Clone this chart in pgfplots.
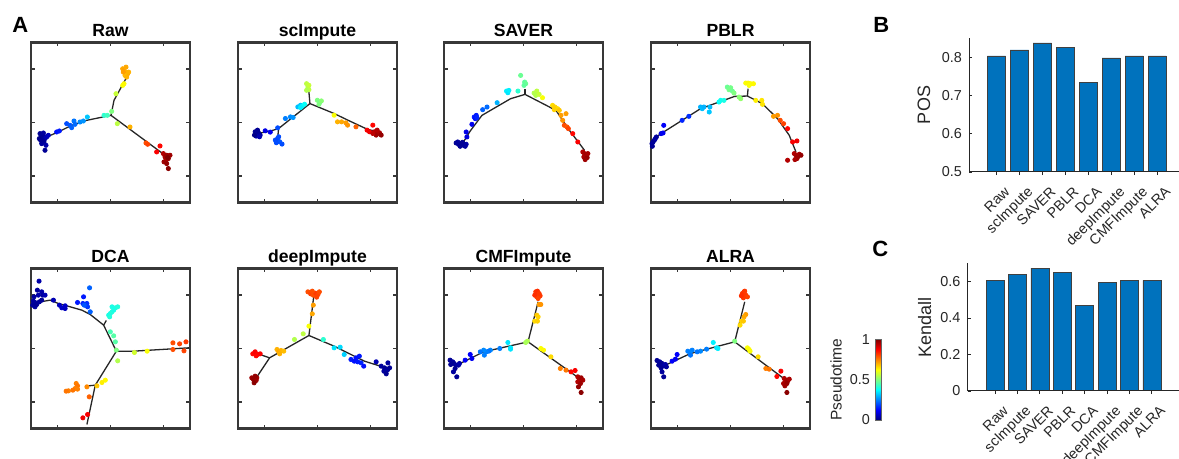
\documentclass[border=0pt]{standalone}
\usepackage{pgfplots}
\pgfplotsset{compat=1.18}
\usepackage{fontspec}
\setmainfont{Liberation Sans}
\definecolor{matblue}{RGB}{0,114,189}
\definecolor{txt}{RGB}{38,38,38}
\pgfplotsset{
  /pgf/number format/assume math mode=true,
  every axis title shift=0pt,
  panel/.style={scale only axis, width=79.5pt, height=80pt, anchor=south west, y dir=reverse,
    axis line style={line width=1.4pt, draw=black!78},
    tick align=inside, major tick length=1.8pt, tick style={line width=0.7pt, draw=black!78},
    xticklabels={}, yticklabels={},
    colormap/jet, point meta min=0, point meta max=1,
    title style={font=\bfseries\fontsize{8.8}{9}\selectfont, anchor=base, inner sep=0pt, yshift=2.8pt}},
  pts/.style={scatter, only marks, mark=*, mark size=1.05pt, point meta=explicit,
    scatter/use mapped color={draw=mapped color, fill=mapped color}},
  traj/.style={line width=0.65pt, draw=black!85, no marks},
  barax/.style={scale only axis, anchor=south west, axis x line*=bottom, axis y line*=left,
    axis line style={-, draw=txt, line width=0.5pt}, tick align=inside, major tick length=1.6pt,
    tick style={draw=txt, line width=0.4pt}, ybar, bar width=0.8, axis on top,
    font=\fontsize{7.2}{8}\selectfont, text=txt,
    xtick={1,...,8}, xticklabels={Raw,scImpute,SAVER,PBLR,DCA,deepImpute,CMFImpute,ALRA},
    xticklabel style={xshift=3.5pt, yshift=-5pt, rotate=45, anchor=north east, inner sep=0pt, font=\fontsize{7.2}{8}\selectfont},
    yticklabel style={inner sep=0pt, xshift=-3.4pt, font=\fontsize{7.2}{8}\selectfont},
    ylabel style={anchor=center, font=\fontsize{9}{10}\selectfont}},
}
\begin{document}
\begin{tikzpicture}
\path[use as bounding box] (0,0) rectangle (589.5pt,229.5pt);
\node[anchor=base west, inner sep=0pt, font=\bfseries\fontsize{11}{12}\selectfont] at (6pt,213pt) {A};
\node[anchor=base west, inner sep=0pt, font=\bfseries\fontsize{11}{12}\selectfont] at (436.5pt,213pt) {B};
\node[anchor=base west, inner sep=0pt, font=\bfseries\fontsize{11}{12}\selectfont] at (436pt,101pt) {C};

% ---------- Raw ----------
\begin{axis}[panel, at={(15.5pt,128.25pt)}, title={Raw}, xmin=93, xmax=570, ymin=126, ymax=607,
  xtick={172.5,331.5,490.5}, ytick={206.2,366.5,526.8}]
\addplot[pts] table[meta=c] {
x y c
120 400 0.02
125 410 0.03
130 405 0.02
135 415 0.04
128 420 0.03
140 410 0.05
132 425 0.02
125 430 0.03
138 435 0.04
135 450 0.02
118 415 0.01
145 405 0.06
130 398 0.03
122 420 0.02
170 395 0.14
178 392 0.15
200 370 0.2
210 375 0.21
215 382 0.22
222 362 0.24
225 372 0.23
240 365 0.26
250 362 0.27
262 350 0.32
312 345 0.42
322 345 0.44
335 333 0.5
352 370 0.56
348 280 0.57
368 255 0.62
372 250 0.63
368 205 0.71
372 210 0.72
378 215 0.7
383 220 0.71
375 225 0.69
380 230 0.7
370 215 0.72
386 215 0.7
378 200 0.71
390 380 0.7
438 428 0.8
443 432 0.81
470 455 0.88
480 437 0.87
490 460 0.95
495 470 0.96
500 465 0.97
505 475 0.98
498 480 0.96
492 485 0.97
500 490 0.98
510 465 0.97
505 505 0.99
503 472 1.0
};
\addplot[traj] coordinates {(140,410) (175,395) (215,375) (260,360) (333,345)};
\addplot[traj] coordinates {(333,345) (342,300) (383,225)};
\addplot[traj] coordinates {(333,345) (495,465)};
\end{axis}

% ---------- scImpute ----------
\begin{axis}[panel, at={(119pt,128.25pt)}, title={scImpute}, xmin=54, xmax=527, ymin=126, ymax=608,
  xtick={132.8,290.5,448.2}, ytick={206.3,367,527.7}]
\addplot[pts] table[meta=c] {
x y c
105 395 0.02
110 402 0.03
115 398 0.02
108 408 0.04
120 405 0.03
112 390 0.02
103 405 0.01
118 410 0.05
135 392 0.1
150 396 0.11
165 420 0.2
172 415 0.19
178 425 0.21
185 432 0.2
168 428 0.2
175 410 0.2
172 383 0.2
195 355 0.25
210 350 0.26
218 352 0.27
232 320 0.31
240 315 0.32
245 318 0.37
252 312 0.38
240 322 0.36
258 250 0.56
262 260 0.55
265 268 0.56
258 270 0.55
265 255 0.57
290 300 0.5
298 305 0.49
295 312 0.5
302 302 0.51
340 345 0.62
350 365 0.7
362 365 0.71
375 368 0.72
380 375 0.73
405 380 0.78
438 390 0.88
445 395 0.89
455 375 0.87
460 395 0.95
470 400 0.96
465 405 0.97
475 398 0.96
480 405 0.98
455 400 0.94
468 390 0.95
};
\addplot[traj] coordinates {(112,400) (150,393) (175,385) (268,310) (340,340) (385,362) (440,388) (472,395)};
\addplot[traj] coordinates {(175,385) (172,412)};
\addplot[traj] coordinates {(268,310) (265,275)};
\end{axis}

% ---------- SAVER ----------
\begin{axis}[panel, at={(222pt,128.25pt)}, title={SAVER}, xmin=42, xmax=515, ymin=126, ymax=607,
  xtick={120.8,278.5,436.2}, ytick={206.2,366.5,526.8}]
\addplot[pts] table[meta=c] {
x y c
78 428 0.02
85 432 0.03
92 430 0.02
100 435 0.03
108 432 0.04
90 438 0.02
83 425 0.03
97 426 0.02
105 438 0.03
108 395 0.1
110 410 0.09
125 372 0.11
132 350 0.15
138 345 0.15
135 355 0.14
140 352 0.16
157 328 0.22
170 320 0.23
200 307 0.3
228 272 0.36
232 277 0.35
235 270 0.36
262 272 0.42
270 225 0.48
282 245 0.47
285 250 0.48
280 255 0.47
310 278 0.55
318 272 0.56
315 285 0.55
325 282 0.57
335 292 0.62
365 315 0.66
372 320 0.67
380 325 0.66
370 328 0.67
385 330 0.68
390 345 0.72
395 360 0.73
405 340 0.72
400 375 0.8
408 380 0.79
412 385 0.81
425 400 0.87
440 425 0.88
455 455 0.95
460 460 0.96
465 465 0.97
458 470 0.96
468 472 0.98
462 478 0.97
470 460 0.96
};
\addplot[traj] coordinates {(100,425) (120,392) (155,345) (240,295) (283,282) (375,330) (415,390) (460,450)};
\addplot[traj] coordinates {(283,282) (283,265)};
\end{axis}

% ---------- PBLR ----------
\begin{axis}[panel, at={(325.5pt,128.25pt)}, title={PBLR}, xmin=62, xmax=537, ymin=126, ymax=607,
  xtick={141.2,299.5,457.8}, ytick={206.2,366.5,526.8}]
\addplot[pts] table[meta=c] {
x y c
65 430 0.02
68 425 0.03
72 420 0.02
75 415 0.04
78 410 0.03
66 438 0.02
92 400 0.1
98 398 0.11
100 375 0.12
155 360 0.16
175 348 0.17
210 320 0.3
215 325 0.31
220 320 0.3
238 320 0.31
236 335 0.32
265 305 0.38
270 300 0.39
280 300 0.4
290 260 0.48
295 268 0.49
305 272 0.48
310 278 0.5
300 262 0.49
330 295 0.52
325 290 0.51
345 248 0.62
352 248 0.63
360 250 0.62
368 250 0.63
355 255 0.62
375 300 0.64
393 300 0.65
395 312 0.65
428 348 0.72
440 345 0.73
448 360 0.8
458 370 0.81
470 385 0.87
485 425 0.88
498 422 0.89
490 460 0.95
495 465 0.96
500 470 0.97
505 462 0.96
510 465 0.98
498 475 0.97
492 478 0.96
470 480 0.95
};
\addplot[traj] coordinates {(70,415) (95,398) (210,325) (312,288) (350,287) (395,310) (440,355) (475,405) (495,455)};
\addplot[traj] coordinates {(350,287) (352,265)};
\end{axis}

% ---------- DCA ----------
\begin{axis}[panel, at={(15.5pt,15.25pt)}, title={DCA}, xmin=93, xmax=568, ymin=160, ymax=640,
  xtick={172.2,330.5,488.8}, ytick={240,400,560}]
\addplot[pts] table[meta=c] {
x y c
98 270 0.02
105 275 0.03
110 268 0.02
118 260 0.03
105 262 0.02
115 240 0.04
112 225 0.03
125 230 0.04
128 240 0.03
135 240 0.05
117 198 0.04
102 245 0.03
125 255 0.02
100 258 0.03
160 255 0.05
178 270 0.06
185 278 0.07
195 280 0.06
195 272 0.07
232 262 0.15
248 265 0.16
250 245 0.15
255 270 0.16
260 265 0.17
262 275 0.18
268 218 0.22
270 290 0.22
252 270 0.21
325 300 0.4
330 295 0.4
335 290 0.41
340 285 0.4
328 305 0.41
345 278 0.4
352 275 0.41
335 275 0.4
330 350 0.45
340 362 0.46
345 380 0.46
348 405 0.5
352 437 0.55
402 412 0.58
440 408 0.62
315 495 0.63
305 502 0.64
290 512 0.68
228 505 0.75
232 512 0.76
225 520 0.75
218 525 0.76
205 527 0.75
198 528 0.76
232 522 0.75
260 515 0.74
267 545 0.78
517 383 0.8
537 386 0.81
556 380 0.82
517 403 0.8
550 407 0.81
262 598 0.88
248 608 0.89
};
\addplot[traj] coordinates {(110,262) (150,255) (175,265) (245,285) (270,298) (310,330) (348,408)};
\addplot[traj] coordinates {(310,330) (318,316)};
\addplot[traj] coordinates {(348,408) (400,408) (565,398)};
\addplot[traj] coordinates {(348,408) (285,510) (260,628)};
\addplot[traj] coordinates {(285,510) (255,513)};
\end{axis}

% ---------- deepImpute ----------
\begin{axis}[panel, at={(119pt,15.25pt)}, title={deepImpute}, xmin=54, xmax=527, ymin=162, ymax=642,
  xtick={132.8,290.5,448.2}, ytick={242,402,562}]
\addplot[pts] table[meta=c] {
x y c
262 232 0.8
270 238 0.81
278 242 0.8
285 236 0.82
292 240 0.81
296 232 0.8
288 248 0.81
275 230 0.8
278 272 0.72
275 298 0.71
265 335 0.62
248 358 0.56
222 375 0.55
170 405 0.7
175 412 0.71
182 408 0.7
190 410 0.69
178 418 0.7
98 418 0.87
105 412 0.88
112 420 0.87
120 418 0.88
108 424 0.87
95 490 0.97
100 495 0.98
108 498 0.97
102 505 0.99
110 490 0.97
105 485 0.98
308 375 0.42
340 400 0.35
358 398 0.34
370 420 0.33
390 435 0.15
400 440 0.14
415 425 0.15
420 445 0.16
428 455 0.14
410 442 0.15
405 430 0.14
465 442 0.05
480 455 0.03
490 460 0.02
495 470 0.02
500 465 0.03
505 460 0.02
488 470 0.03
495 478 0.02
500 445 0.03
};
\addplot[traj] coordinates {(265,363) (280,240)};
\addplot[traj] coordinates {(265,363) (148,430) (105,495)};
\addplot[traj] coordinates {(148,430) (122,421)};
\addplot[traj] coordinates {(265,363) (340,395) (430,440) (500,462)};
\end{axis}

% ---------- CMFImpute ----------
\begin{axis}[panel, at={(222pt,15.25pt)}, title={CMFImpute}, xmin=42, xmax=515, ymin=160, ymax=640,
  xtick={120.8,278.5,436.2}, ytick={240,400,560}]
\addplot[pts] table[meta=c] {
x y c
315 230 0.82
320 228 0.83
325 235 0.82
318 245 0.81
328 242 0.82
312 240 0.83
322 250 0.81
325 268 0.72
330 268 0.73
318 300 0.68
322 305 0.67
312 318 0.66
320 318 0.67
290 378 0.55
285 382 0.54
330 400 0.62
338 405 0.63
360 425 0.66
388 460 0.75
405 465 0.76
432 466 0.88
420 470 0.87
440 485 0.95
445 492 0.96
450 488 0.97
455 495 0.96
440 500 0.95
448 505 0.97
450 532 0.99
442 515 0.98
232 382 0.35
240 398 0.36
240 402 0.35
208 400 0.25
180 405 0.26
175 408 0.24
168 410 0.25
160 405 0.26
150 410 0.24
162 420 0.25
120 418 0.12
125 430 0.11
105 435 0.12
60 435 0.02
68 440 0.03
72 445 0.02
78 450 0.03
75 460 0.02
70 470 0.03
80 485 0.02
85 450 0.03
88 445 0.04
62 448 0.02
};
\addplot[traj] coordinates {(292,380) (322,260)};
\addplot[traj] coordinates {(292,380) (160,410) (90,445)};
\addplot[traj] coordinates {(292,380) (445,490)};
\end{axis}

% ---------- ALRA ----------
\begin{axis}[panel, at={(325.5pt,15.25pt)}, title={ALRA}, xmin=62, xmax=537, ymin=160, ymax=640,
  xtick={141.2,299.5,457.8}, ytick={240,400,560},
  colorbar,
  colorbar style={at={(parent axis.south east)}, anchor=south west, xshift=24.15pt, yshift=4.25pt,
    scale only axis, width=2.85pt, height=40.35pt, y dir=normal,
    ytick={0,0.5,1}, yticklabels={0,0.5,1}, yticklabel pos=left, ylabel={Pseudotime},
    ylabel style={at={(axis description cs:-6.9,0.5)}, anchor=center, font=\fontsize{7.75}{9}\selectfont, text=txt},
    yticklabel style={anchor=east, inner sep=0pt, xshift=-2.6pt, font=\fontsize{7.2}{8}\selectfont, text=txt},
    axis line style={draw=black!60, line width=0.3pt}, major tick length=0pt, tick style={draw=none}}]
\addplot[pts] table[meta=c] {
x y c
335 235 0.82
340 230 0.83
345 240 0.82
350 245 0.81
338 248 0.82
332 242 0.83
342 228 0.82
345 298 0.72
340 305 0.71
332 318 0.67
338 318 0.68
328 330 0.66
312 378 0.5
350 398 0.62
355 403 0.63
358 408 0.62
382 425 0.66
405 460 0.75
415 462 0.76
438 484 0.87
450 468 0.88
460 490 0.95
465 495 0.96
470 498 0.97
458 505 0.96
468 505 0.98
475 492 0.96
462 512 0.97
468 532 0.99
248 382 0.36
258 398 0.35
262 400 0.36
228 402 0.25
210 408 0.26
200 410 0.24
185 405 0.25
178 412 0.26
180 420 0.24
172 408 0.25
140 418 0.12
135 432 0.11
125 438 0.12
80 436 0.02
88 440 0.03
95 445 0.02
100 452 0.03
92 458 0.02
95 470 0.03
100 485 0.02
105 448 0.04
108 455 0.03
85 450 0.02
};
\addplot[traj] coordinates {(312,380) (342,260)};
\addplot[traj] coordinates {(312,380) (180,415) (105,450)};
\addplot[traj] coordinates {(312,380) (465,495)};
\end{axis}

% ---------- B: POS ----------
\begin{axis}[barax, at={(484.5pt,143.5pt)}, width=105pt, height=67pt,
  xmin=-0.196, xmax=8.95, ymin=0.5, ymax=0.85, ytick={0.5,0.6,0.7,0.8},
  ylabel={POS}, ylabel style={at={(axis description cs:-0.215,0.5)}}]
\addplot[fill=matblue, draw=black!75, line width=0.3pt] coordinates {
(1,0.803) (2,0.819) (3,0.837) (4,0.826) (5,0.735) (6,0.798) (7,0.803) (8,0.803)};
\end{axis}

% ---------- C: Kendall ----------
\begin{axis}[barax, at={(483.85pt,34pt)}, width=105.65pt, height=63.85pt,
  xmin=-0.219, xmax=9.21, ymin=0, ymax=0.7, ytick={0,0.2,0.4,0.6},
  ylabel={Kendall}, ylabel style={at={(axis description cs:-0.203,0.5)}}]
\addplot[fill=matblue, draw=black!75, line width=0.3pt] coordinates {
(1,0.605) (2,0.641) (3,0.674) (4,0.652) (5,0.468) (6,0.597) (7,0.607) (8,0.607)};
\end{axis}
\end{tikzpicture}
\end{document}
